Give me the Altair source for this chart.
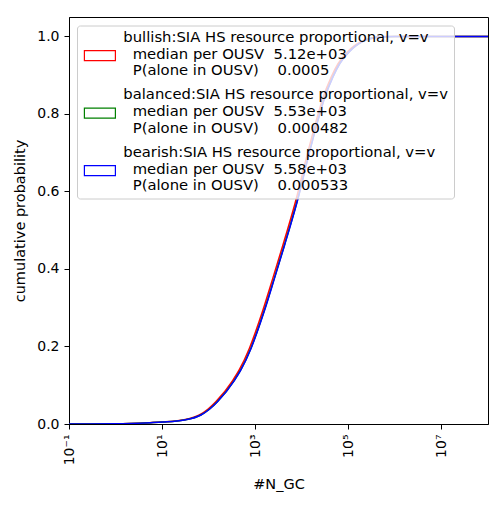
import altair as alt
import pandas as pd

NB = "\u00a0"
ZW = "\u200b"

# legend labels (3 lines each, separated by "|")
series_labels = [
    "bullish:SIA HS resource proportional, v=v|" + ZW + NB * 2 + "median per OUSV" + NB * 2 + "5.12e+03|" + ZW + NB * 2 + "P(alone in OUSV)" + NB * 4 + "0.0005",
    "balanced:SIA HS resource proportional, v=v|" + ZW + NB * 2 + "median per OUSV" + NB * 2 + "5.53e+03|" + ZW + NB * 2 + "P(alone in OUSV)" + NB * 4 + "0.000482",
    "bearish:SIA HS resource proportional, v=v|" + ZW + NB * 2 + "median per OUSV" + NB * 2 + "5.58e+03|" + ZW + NB * 2 + "P(alone in OUSV)" + NB * 4 + "0.000533",
]
series_colors = ["#ff0000", "#008000", "#0000ff"]

# cumulative probability levels
cdf_values = [0.0, 0.0005, 0.0034, 0.005, 0.0103, 0.0232, 0.038, 0.058, 0.112, 0.140,
              0.195, 0.292, 0.375, 0.460, 0.503, 0.572, 0.700, 0.782, 0.840, 0.895,
              0.930, 0.960, 0.976, 0.987, 0.994, 0.999, 1.0, 1.0]
# #N_GC value at which each series reaches that level
bullish_n = [0.1, 1, 5.30, 9.59, 27.5, 63.0, 95.9, 143.9, 327.3, 456.0,
             748.2, 1449, 2377, 3899, 4989, 7278, 13430, 20370, 28250, 42850,
             60530, 95940, 135500, 191400, 270400, 480800, 959400, 1e8]
balanced_n = [0.1, 1, 5.70, 10.32, 29.65, 67.76, 103.2, 154.9, 352.3, 491.0,
              805.3, 1560, 2558, 4197, 5370, 7834, 14450, 21930, 30410, 46130,
              65160, 103200, 145900, 206100, 291100, 517600, 1032000, 1e8]
bearish_n = [0.1, 1, 5.75, 10.42, 29.92, 68.39, 104.2, 156.3, 355.6, 495.5,
             812.8, 1574, 2582, 4236, 5420, 7907, 14590, 22130, 30690, 46560,
             65770, 104200, 147200, 208000, 293800, 522400, 1042000, 1e8]

x_tick_exponents = [-1, 1, 3, 5, 7]
x_tick_labels = ["10\u207b\u00b9", "10\u00b9", "10\u00b3", "10\u2075", "10\u2077"]
y_tick_values = [0.0, 0.2, 0.4, 0.6, 0.8, 1.0]

rows = []
for lab, ns in zip(series_labels, [bullish_n, balanced_n, bearish_n]):
    for n, p in zip(ns, cdf_values):
        rows.append({"series": lab, "n": n, "p": p})
df = pd.DataFrame(rows)

FONT = "DejaVu Sans"

label_expr = "[" + ",".join("'" + s + "'" for s in x_tick_labels) + "][indexof([" + \
    ",".join(str(e) for e in x_tick_exponents) + "], round(log(datum.value)/LN10))]"

chart = alt.Chart(df).mark_line(strokeWidth=1.5, clip=True, interpolate="monotone").encode(
    x=alt.X("n:Q",
            scale=alt.Scale(type="log", domain=[0.1, 1e8], nice=False),
            axis=alt.Axis(title="#N_GC", values=[10.0 ** e for e in x_tick_exponents],
                          labelExpr=label_expr, labelAngle=270, labelPadding=5,
                          titlePadding=13, grid=False)),
    y=alt.Y("p:Q",
            scale=alt.Scale(domain=[0, 1.05], nice=False, zero=False),
            axis=alt.Axis(title="cumulative probability", values=y_tick_values, format=".1f",
                          labelPadding=5, titlePadding=9, grid=False)),
    color=alt.Color("series:N",
                    scale=alt.Scale(domain=series_labels, range=series_colors),
                    legend=alt.Legend(title=None, orient="none", legendX=8, legendY=8.5,
                                      symbolType="M-1,2.56H5.2V4.56H-1Z", symbolSize=100,
                                      symbolStrokeWidth=1.2, symbolFillColor="transparent",
                                      labelExpr="split(datum.label, '|')",
                                      labelFont=FONT, labelFontSize=14.8, labelColor="black",
                                      labelLimit=600, labelOffset=26.5, padding=5, rowPadding=8.5,
                                      fillColor="rgba(255,255,255,0.8)", strokeColor="#cccccc",
                                      cornerRadius=3)),
).properties(
    width=419, height=407,
    autosize=alt.AutoSizeParams(type="none"),
    padding={"left": 61, "top": 9, "right": 6, "bottom": 75},
).configure_view(
    stroke="black", strokeWidth=1
).configure_axis(
    labelFont=FONT, titleFont=FONT, labelFontSize=14, titleFontSize=14.5,
    labelColor="black", titleColor="black", titleFontWeight="normal",
    tickColor="black", tickSize=5, tickWidth=1, domainColor="black", domainWidth=1,
)

chart.save("out.html", embed_options={"renderer": "svg", "actions": False})
